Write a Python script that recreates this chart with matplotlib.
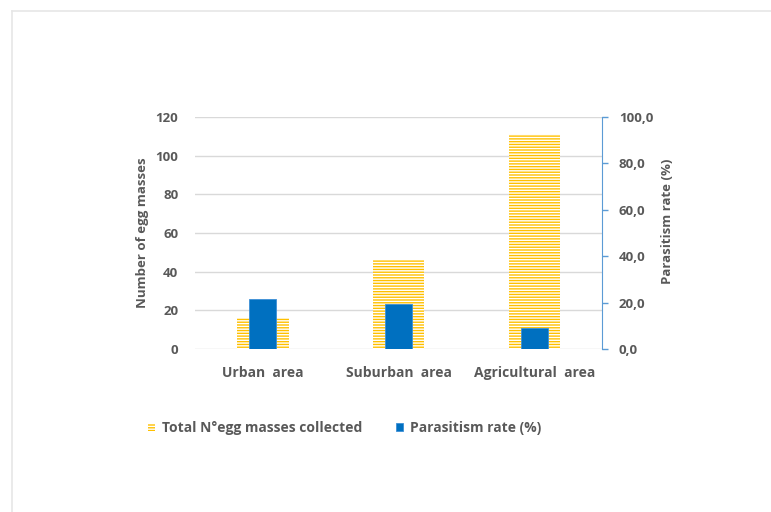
import matplotlib
matplotlib.use("Agg")
import matplotlib.pyplot as plt
from matplotlib.lines import Line2D
import numpy as np

categories = ["Urban  area", "Suburban  area", "Agricultural  area"]
egg_masses = [16, 46, 111]
parasitism = [21.5, 19.5, 9.0]
left_ticks = [0, 20, 40, 60, 80, 100, 120]
right_ticks = [0, 20, 40, 60, 80, 100]
right_labels = ["0,0", "20,0", "40,0", "60,0", "80,0", "100,0"]

TXT = "#595959"
YEL = "#FFC000"
BLU = "#0070C0"
plt.rcParams['font.family'] = ['Open Sans', 'DejaVu Sans']
plt.rcParams['font.weight'] = 'bold'
plt.rcParams['axes.labelweight'] = 'bold'
plt.rcParams['hatch.linewidth'] = 1.0

fig = plt.figure(figsize=(7.71, 5.12), dpi=100)
# light frame
fig.add_artist(Line2D([12/771, 1], [1-11/512, 1-11/512], color="#E6E6E6", lw=1.2, transform=fig.transFigure))
fig.add_artist(Line2D([12/771, 12/771], [0, 1-11/512], color="#E6E6E6", lw=1.2, transform=fig.transFigure))

ax = fig.add_axes([0.253, 0.3184, 0.528, 0.4531])
x = np.arange(len(categories))
b1 = ax.bar(x, egg_masses, width=0.38, color=YEL, edgecolor="white", linewidth=0,
            hatch="------", zorder=2, label="Total N°egg masses collected")
ax.set_ylim(0, 120)
ax.set_xlim(-0.5, 2.5)
ax.set_yticks(left_ticks)
ax.grid(axis="y", color="#D9D9D9", lw=1, zorder=0)
ax.set_axisbelow(True)
for s in ax.spines.values():
    s.set_visible(False)
ax.tick_params(axis="y", length=0, pad=12, labelsize=9.5, labelcolor=TXT)
ax.tick_params(axis="x", length=0, pad=12, labelsize=10, labelcolor=TXT)
ax.set_xticks(x)
ax.set_xticklabels(categories, fontweight="bold")
ax.set_ylabel("Number of egg masses", fontsize=9.5, color=TXT, labelpad=5, fontweight="bold")
plt.setp(ax.get_yticklabels(), fontweight="bold")

ax2 = ax.twinx()
b2 = ax2.bar(x, parasitism, width=0.2, color=BLU, edgecolor="#3d8fd6", linewidth=0.6,
             zorder=3, label="Parasitism rate (%)")
ax2.set_ylim(0, 100)
ax2.set_yticks(right_ticks)
ax2.set_yticklabels(right_labels, fontweight="bold")
for k, s in ax2.spines.items():
    s.set_visible(k == "right")
ax2.spines["right"].set_color("#5B9BD5")
ax2.tick_params(axis="y", length=4, width=1, color="#5B9BD5", pad=8, labelsize=9.5, labelcolor=TXT)
ax2.set_ylabel("Parasitism rate (%)", fontsize=9.5, color=TXT, fontweight="bold")
ax2.yaxis.set_label_coords(1.145, 0.552)

leg = fig.legend(handles=[b1, b2], loc="center", bbox_to_anchor=(0.447, 1-428/512), ncol=2,
                 frameon=False, handlelength=0.55, handleheight=0.55, handletextpad=0.5,
                 columnspacing=2.4, prop={"size": 10, "weight": "bold"})
for t in leg.get_texts():
    t.set_color(TXT)

fig.savefig("out.png", dpi=100)
